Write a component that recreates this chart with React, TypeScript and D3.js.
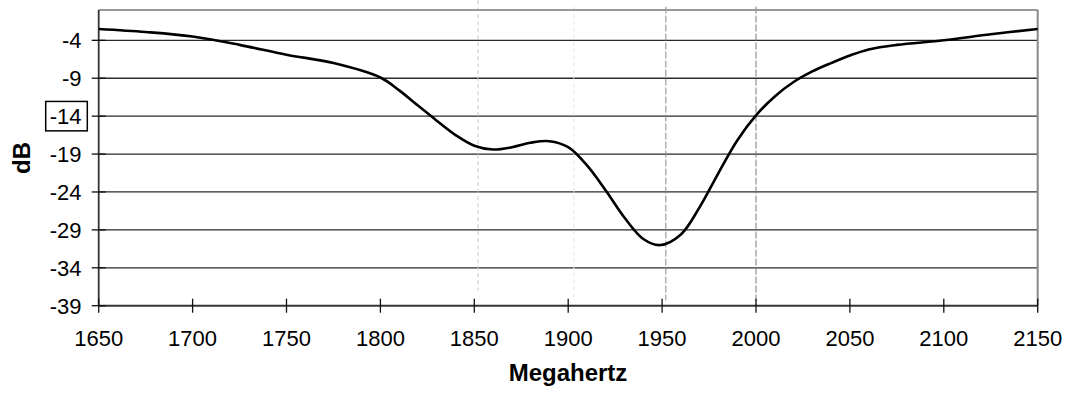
import React from 'react';
import * as d3 from 'd3';

const freqs = [1650, 1675, 1700, 1725, 1750, 1775, 1800, 1810, 1820, 1830, 1840, 1850, 1860, 1870, 1880, 1890, 1900, 1910, 1920, 1930, 1940, 1949, 1960, 1970, 1980, 1990, 2000, 2010, 2020, 2030, 2040, 2050, 2060, 2075, 2100, 2125, 2150];
const dbValues = [-2.5, -2.9, -3.5, -4.6, -5.9, -7.0, -8.9, -10.6, -12.6, -14.6, -16.5, -17.9, -18.4, -18.1, -17.5, -17.3, -18.1, -20.5, -23.8, -27.4, -30.2, -31.0, -29.6, -26.0, -21.5, -17.2, -13.9, -11.4, -9.5, -8.1, -7.0, -6.0, -5.2, -4.6, -4.0, -3.2, -2.5];

const xTicks = [1650, 1700, 1750, 1800, 1850, 1900, 1950, 2000, 2050, 2100, 2150];
const yTicks = [-39, -34, -29, -24, -19, -14, -9, -4];
const boxedTick = -14;

// vertical marker lines
const markerFreqs = [1852, 1903, 1952, 2000];
const markerTop = [1.3, 0.45, 0.45, 0.45];
const markerBottom = [-37.3, -38.25, -38.3, -38.9];

const markerStyles = [
  { stroke: '#c8c8c8', dash: '4,3' },
  { stroke: '#e6e6e6', dash: '4,3' },
  { stroke: '#8a8a8a', dash: '7,2' },
  { stroke: '#7a7a7a', dash: '7,2' },
];

const W = 1067, H = 401;
const left = 98.7, right = 1037.7, top = 10, bottom = 305.7;
const font = '"Liberation Sans", Arial, sans-serif';

export default function App() {
  const x = d3.scaleLinear().domain([1650, 2150]).range([left, right]);
  const y = d3.scaleLinear().domain([-39, 0]).range([bottom, top]);
  const pts = freqs.map((f, i) => [f, dbValues[i]] as [number, number]);
  const line = d3.line<[number, number]>()
    .x(d => x(d[0]))
    .y(d => y(d[1]))
    .curve(d3.curveCatmullRom.alpha(0.5));

  return (
    <svg width={W} height={H} style={{ position: 'absolute', left: 0, top: 0, background: '#fff' }}>
      {/* grid lines */}
      {yTicks.filter(t => t !== -39).map(t => (
        <line key={'g' + t} x1={left} x2={right} y1={y(t)} y2={y(t)} stroke="#2a2a2a" strokeWidth={1.3} />
      ))}
      {/* marker lines */}
      {markerFreqs.map((f, i) => (
        <line key={'m' + f} x1={x(f)} x2={x(f)} y1={y(markerTop[i])} y2={y(markerBottom[i])}
          stroke={markerStyles[i].stroke} strokeWidth={1} strokeDasharray={markerStyles[i].dash} />
      ))}
      {/* frame */}
      <line x1={left} x2={right} y1={top} y2={top} stroke="#999" strokeWidth={2} />
      <line x1={right} x2={right} y1={top} y2={bottom} stroke="#888" strokeWidth={2} />
      <line x1={left} x2={left} y1={top} y2={bottom} stroke="#333" strokeWidth={1.8} />
      <line x1={left} x2={right} y1={bottom} y2={bottom} stroke="#333" strokeWidth={2} />
      {/* y ticks */}
      {yTicks.map(t => (
        <g key={'y' + t}>
          <line x1={left - 7} x2={left + 7} y1={y(t)} y2={y(t)} stroke="#111" strokeWidth={1.3} />
          <text x={81.5} y={y(t)} dy="0.36em" textAnchor="end" fontFamily={font} fontSize={22} fill="#000">{t}</text>
        </g>
      ))}
      <rect x={45.7} y={y(boxedTick) - 14.7} width={41.6} height={29.4} fill="none" stroke="#000" strokeWidth={1.5} />
      {/* x ticks */}
      {xTicks.map(t => (
        <g key={'x' + t}>
          <line x1={x(t)} x2={x(t)} y1={bottom - 7} y2={bottom + 7} stroke="#111" strokeWidth={1.3} />
          <text x={x(t)} y={346} textAnchor="middle" fontFamily={font} fontSize={22} fill="#000">{t}</text>
        </g>
      ))}
      {/* curve */}
      <path d={line(pts) || ''} fill="none" stroke="#000" strokeWidth={2.6} />
      {/* axis titles */}
      <text x={568} y={381} textAnchor="middle" fontFamily={font} fontSize={24} fontWeight="bold">Megahertz</text>
      <text transform="translate(30,158) rotate(-90)" textAnchor="middle" fontFamily={font} fontSize={24} fontWeight="bold">dB</text>
    </svg>
  );
}
